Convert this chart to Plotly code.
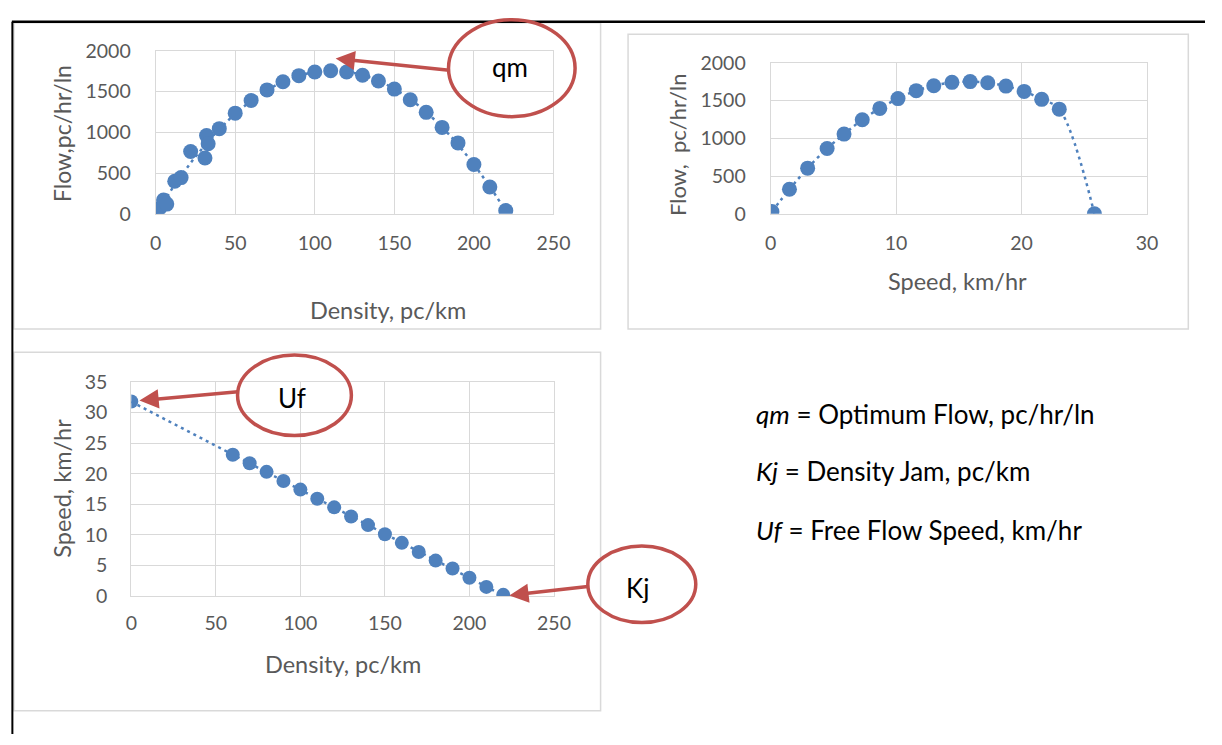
import numpy as np
import plotly.graph_objects as go

# ---------------- data ----------------
density_qk = [0.5, 2.5, 5, 7, 12, 16, 22, 31, 32, 33, 40, 50, 60, 70, 80, 90, 100,
              110, 120, 130, 140, 150, 160, 170, 180, 190, 200, 210, 220]
flow_qk = [15, 70, 170, 120, 400, 445, 765, 685, 960, 860, 1045, 1235, 1390, 1520, 1620,
           1695, 1740, 1755, 1740, 1700, 1630, 1530, 1400, 1245, 1060, 870, 605, 330, 40]

speed_qu = [0.1, 1.5, 2.95, 4.5, 5.85, 7.3, 8.7, 10.15, 11.6, 13.0, 14.45, 15.9, 17.3,
            18.75, 20.2, 21.6, 23.0, 25.8]
flow_qu = [30, 325, 605, 865, 1055, 1245, 1395, 1525, 1630, 1695, 1740, 1750, 1735,
           1690, 1620, 1515, 1385, 0]

density_uk = [0, 60, 70, 80, 90, 100, 110, 120, 130, 140, 150, 160, 170, 180, 190, 200, 210, 220]
speed_uk = [31.8, 23.1, 21.7, 20.3, 18.8, 17.4, 15.9, 14.5, 13.0, 11.6, 10.1, 8.7, 7.2,
            5.8, 4.5, 3.0, 1.5, 0.2]

definitions = ["<i>qm</i> = Optimum Flow, pc/hr/ln",
               "<i>Kj</i> = Density Jam, pc/km",
               "<i>Uf</i> = Free Flow Speed, km/hr"]

# ---------------- helpers ----------------
W, H = 1222, 745


def px(x):
    return x / W


def py(y):
    return 1 - y / H


BLUE = "#4F81BD"
RED = "#C0504D"
GRID = "#D9D9D9"
TXT = "#595959"
FONT = "Lato"

fig = go.Figure()

# flow-density: quadratic trendline fitted to the data, then markers
c1 = np.polyfit(density_qk, flow_qk, 2)
xs1 = np.linspace(0, 220, 150)
fig.add_trace(go.Scatter(x=xs1, y=np.polyval(c1, xs1), mode="lines",
                         line=dict(color=BLUE, width=2.5, dash="3px,4px"),
                         xaxis="x", yaxis="y", hoverinfo="skip"))
fig.add_trace(go.Scatter(x=density_qk, y=flow_qk, mode="markers",
                         marker=dict(size=15, color=BLUE), xaxis="x", yaxis="y"))

# flow-speed: smoothed dotted line + markers
fig.add_trace(go.Scatter(x=speed_qu, y=flow_qu, mode="lines",
                         line=dict(color=BLUE, width=2.5, dash="3px,4px", shape="spline"),
                         xaxis="x2", yaxis="y2", hoverinfo="skip"))
fig.add_trace(go.Scatter(x=speed_qu, y=flow_qu, mode="markers",
                         marker=dict(size=15, color=BLUE), xaxis="x2", yaxis="y2"))

# speed-density: linear trendline + markers
c3 = np.polyfit(density_uk, speed_uk, 1)
xs3 = np.array([0, 220])
fig.add_trace(go.Scatter(x=xs3, y=np.polyval(c3, xs3), mode="lines",
                         line=dict(color=BLUE, width=2.5, dash="3px,4px"),
                         xaxis="x3", yaxis="y3", hoverinfo="skip"))
fig.add_trace(go.Scatter(x=density_uk, y=speed_uk, mode="markers",
                         marker=dict(size=14, color=BLUE), xaxis="x3", yaxis="y3"))


def axstyle(ticklen, **kw):
    d = dict(showgrid=True, gridcolor=GRID, gridwidth=1, zeroline=False,
             showline=True, linecolor=GRID, linewidth=1, mirror=True,
             ticks="outside", ticklen=ticklen, tickcolor="rgba(0,0,0,0)",
             tickfont=dict(family=FONT, size=19.5, color=TXT), fixedrange=True)
    d.update(kw)
    return d


fig.update_layout(
    width=W, height=H, margin=dict(l=0, r=0, t=0, b=0),
    paper_bgcolor="white", plot_bgcolor="white", showlegend=False,
    xaxis=axstyle(12, domain=[px(152.5), px(558)], range=[0, 250], dtick=50, anchor="y"),
    yaxis=axstyle(20, domain=[py(208.3), py(40)], range=[0, 2000], dtick=500, anchor="x"),
    xaxis2=axstyle(12, domain=[px(779.3), px(1163)], range=[0, 30], dtick=10, anchor="y2"),
    yaxis2=axstyle(20, domain=[py(208.3), py(52.3)], range=[0, 2000], dtick=500, anchor="x2"),
    xaxis3=axstyle(10, domain=[px(127.7), px(558.5)], range=[0, 250], dtick=50, anchor="y3"),
    yaxis3=axstyle(19, domain=[py(602.7), py(381.7)], range=[0, 35], dtick=5, anchor="x3"),
)

shapes = []
# chart frames
for (x0, y0, x1, y1) in [(8, 11, 606, 327), (634, 23, 1205, 327), (8, 351, 606, 721)]:
    shapes.append(dict(type="rect", xref="paper", yref="paper",
                       x0=px(x0), x1=px(x1), y0=py(y1), y1=py(y0),
                       line=dict(color=GRID, width=1.5), layer="below"))
# document border lines
shapes.append(dict(type="line", xref="paper", yref="paper", x0=px(6), x1=1,
                   y0=py(10), y1=py(10), line=dict(color="black", width=2.5)))
shapes.append(dict(type="line", xref="paper", yref="paper", x0=px(6.5), x1=px(6.5),
                   y0=py(10), y1=0, line=dict(color="black", width=2)))
# red ellipses
for (x0, y0, x1, y1) in [(451, 8, 580, 108), (236, 354, 352, 437), (593, 551, 703, 630)]:
    shapes.append(dict(type="circle", xref="paper", yref="paper",
                       x0=px(x0), x1=px(x1), y0=py(y1), y1=py(y0),
                       line=dict(color=RED, width=3.5)))

annotations = []


def title(text, x, y, angle=0, size=23.5):
    annotations.append(dict(text=text, x=px(x), y=py(y), xref="paper", yref="paper",
                            showarrow=False, textangle=angle, xanchor="center",
                            yanchor="middle",
                            font=dict(family=FONT, size=size, color=TXT)))


title("Density, pc/km", 389, 308)
title("Flow,pc/hr/ln", 57, 125, -90, 23)
title("Speed, km/hr", 970, 278)
title("Flow,  pc/hr/ln", 685, 137, -90, 22)
title("Density, pc/km", 343, 673)
title("Speed, km/hr", 57, 491, -90)

for (t, x, y) in [("qm", 514, 57), ("Uf", 291, 398), ("Kj", 644, 594)]:
    annotations.append(dict(text=t, x=px(x), y=py(y), xref="paper", yref="paper",
                            showarrow=False, xanchor="center", yanchor="middle",
                            font=dict(family=FONT, size=26, color="black")))

for (tx, ty, hx, hy) in [(451, 60, 336, 48), (236, 392, 136, 401), (593, 593, 513, 602)]:
    annotations.append(dict(text="", x=px(hx), y=py(hy), xref="paper", yref="paper",
                            ax=tx - hx, ay=ty - hy, showarrow=True, arrowhead=2,
                            arrowsize=1.1, arrowwidth=3.5, arrowcolor=RED, standoff=0))

for t, y in zip(definitions, [415, 474, 534]):
    annotations.append(dict(text=t, x=px(762), y=py(y), xref="paper", yref="paper",
                            showarrow=False, xanchor="left", yanchor="middle",
                            font=dict(family=FONT, size=26, color="black")))

fig.update_layout(shapes=shapes, annotations=annotations)
fig.write_html("out.html",
               post_script="document.body.style.margin='0';"
                           "document.body.style.overflow='hidden';",
               config={"displayModeBar": False})
